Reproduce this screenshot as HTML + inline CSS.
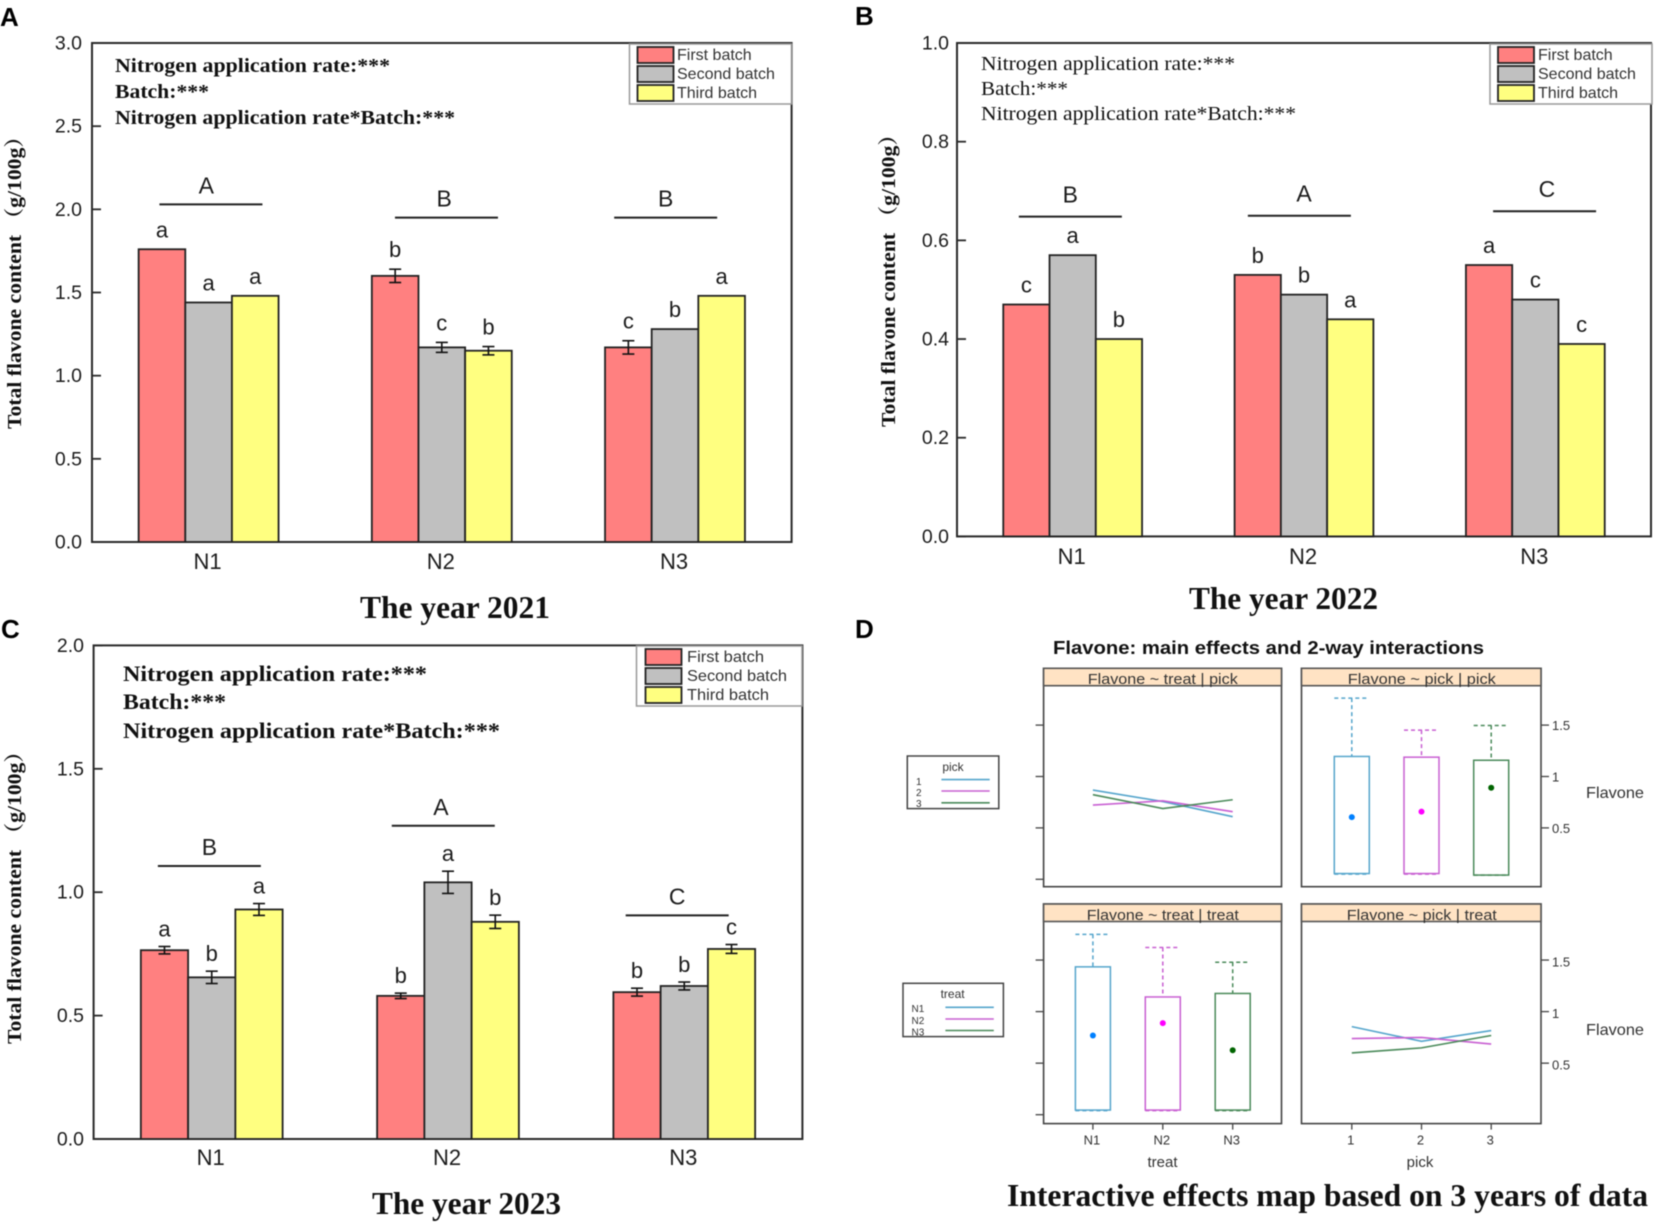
<!DOCTYPE html>
<html lang="en">
<head>
<meta charset="utf-8">
<title>Total flavone content by nitrogen rate and batch</title>
<style>
html,body{margin:0;padding:0;background:#fff;}
svg{display:block;filter:blur(0.55px);}
.sans{font-family:"Liberation Sans",Arial,sans-serif;fill:#1c1c1c;}
.serif{font-family:"Liberation Serif","Noto Serif CJK SC",serif;fill:#111;}
.b{font-weight:bold;}
.note{font-size:20px;}
.year{font-size:32px;font-weight:bold;}
.ytitle{font-size:20px;font-weight:bold;}
.plab{font-family:"Liberation Sans",Arial,sans-serif;font-weight:bold;font-size:26px;fill:#000;}
.leg{font-size:16px;fill:#333;}
.strip{font-size:15px;fill:#333;text-anchor:middle;}
.dtxt{font-family:"Liberation Sans",Arial,sans-serif;fill:#333;}
</style>
</head>
<body>
<svg id="fig" xmlns="http://www.w3.org/2000/svg" width="1656" height="1226" viewBox="0 0 1656 1226">
  <rect x="0" y="0" width="1656" height="1226" fill="#fff"/>

  <!-- panel letters -->
  <text class="plab" x="0" y="26">A</text>
  <text class="plab" x="855" y="25">B</text>
  <text class="plab" x="1" y="638">C</text>
  <text class="plab" x="855" y="638">D</text>

  <!-- axis titles -->
  <text class="serif ytitle" text-anchor="middle" textLength="303" lengthAdjust="spacingAndGlyphs" transform="translate(21 277.5) rotate(-90)">Total flavone content （g/100g）</text>
  <text class="serif ytitle" text-anchor="middle" textLength="303" lengthAdjust="spacingAndGlyphs" transform="translate(895 275.5) rotate(-90)">Total flavone content （g/100g）</text>
  <text class="serif ytitle" text-anchor="middle" textLength="303" lengthAdjust="spacingAndGlyphs" transform="translate(21 892.5) rotate(-90)">Total flavone content （g/100g）</text>

  <g id="chart-a"></g>
  <g id="chart-b"></g>
  <g id="chart-c"></g>

  <!-- significance notes -->
  <g>
    <text class="serif b note" x="115" y="72" textLength="275" lengthAdjust="spacingAndGlyphs">Nitrogen application rate:***</text>
    <text class="serif b note" x="115" y="98" textLength="94" lengthAdjust="spacingAndGlyphs">Batch:***</text>
    <text class="serif b note" x="115" y="124" textLength="340" lengthAdjust="spacingAndGlyphs">Nitrogen application rate*Batch:***</text>
  </g>
  <g>
    <text class="serif note" x="981" y="70" textLength="254" lengthAdjust="spacingAndGlyphs">Nitrogen application rate:***</text>
    <text class="serif note" x="981" y="95" textLength="87" lengthAdjust="spacingAndGlyphs">Batch:***</text>
    <text class="serif note" x="981" y="120" textLength="315" lengthAdjust="spacingAndGlyphs">Nitrogen application rate*Batch:***</text>
  </g>
  <g>
    <text class="serif b" style="font-size:22px" x="123" y="681" textLength="304" lengthAdjust="spacingAndGlyphs">Nitrogen application rate:***</text>
    <text class="serif b" style="font-size:22px" x="123" y="709" textLength="103" lengthAdjust="spacingAndGlyphs">Batch:***</text>
    <text class="serif b" style="font-size:22px" x="123" y="738" textLength="377" lengthAdjust="spacingAndGlyphs">Nitrogen application rate*Batch:***</text>
  </g>

  <!-- captions -->
  <text class="serif year" x="360" y="618" textLength="190" lengthAdjust="spacingAndGlyphs">The year 2021</text>
  <text class="serif year" x="1189" y="609" textLength="189" lengthAdjust="spacingAndGlyphs">The year 2022</text>
  <text class="serif year" x="372" y="1214" textLength="189" lengthAdjust="spacingAndGlyphs">The year 2023</text>
  <text class="serif year" x="1007" y="1206" textLength="641" lengthAdjust="spacingAndGlyphs">Interactive effects map based on 3 years of data</text>

  <!-- bar chart legends -->
  <g>
    <rect x="629.5" y="44" width="162" height="60" fill="#fff" stroke="#999" stroke-width="1.5"/>
    <rect x="637.5" y="47" width="36" height="16" fill="#ff8080" stroke="#222" stroke-width="1.8"/>
    <rect x="637.5" y="66" width="36" height="16" fill="#c0c0c0" stroke="#222" stroke-width="1.8"/>
    <rect x="637.5" y="85" width="36" height="16" fill="#ffff80" stroke="#222" stroke-width="1.8"/>
    <text class="sans leg" x="677" y="60">First batch</text>
    <text class="sans leg" x="677" y="79">Second batch</text>
    <text class="sans leg" x="677" y="98">Third batch</text>
  </g>
  <g>
    <rect x="1490" y="44" width="162" height="60" fill="#fff" stroke="#999" stroke-width="1.5"/>
    <rect x="1498" y="47" width="36" height="16" fill="#ff8080" stroke="#222" stroke-width="1.8"/>
    <rect x="1498" y="66" width="36" height="16" fill="#c0c0c0" stroke="#222" stroke-width="1.8"/>
    <rect x="1498" y="85" width="36" height="16" fill="#ffff80" stroke="#222" stroke-width="1.8"/>
    <text class="sans leg" x="1538" y="60">First batch</text>
    <text class="sans leg" x="1538" y="79">Second batch</text>
    <text class="sans leg" x="1538" y="98">Third batch</text>
  </g>
  <g>
    <rect x="636.5" y="646" width="165.5" height="60" fill="#fff" stroke="#999" stroke-width="1.5"/>
    <rect x="645.5" y="649" width="36" height="16" fill="#ff8080" stroke="#222" stroke-width="1.8"/>
    <rect x="645.5" y="668" width="36" height="16" fill="#c0c0c0" stroke="#222" stroke-width="1.8"/>
    <rect x="645.5" y="687" width="36" height="16" fill="#ffff80" stroke="#222" stroke-width="1.8"/>
    <text class="sans leg" x="687" y="662" textLength="77" lengthAdjust="spacingAndGlyphs">First batch</text>
    <text class="sans leg" x="687" y="681" textLength="100" lengthAdjust="spacingAndGlyphs">Second batch</text>
    <text class="sans leg" x="687" y="700" textLength="82" lengthAdjust="spacingAndGlyphs">Third batch</text>
  </g>

  <!-- panel D static text -->
  <text class="dtxt" style="font-weight:bold;font-size:18px;fill:#111" x="1053" y="654" textLength="431" lengthAdjust="spacingAndGlyphs">Flavone: main effects and 2-way interactions</text>
  <g id="chart-d"></g>
  <text class="dtxt strip" x="1162.8" y="684" textLength="150" lengthAdjust="spacingAndGlyphs">Flavone ~ treat | pick</text>
  <text class="dtxt strip" x="1421.8" y="684" textLength="148" lengthAdjust="spacingAndGlyphs">Flavone ~ pick | pick</text>
  <text class="dtxt strip" x="1162.8" y="920" textLength="152" lengthAdjust="spacingAndGlyphs">Flavone ~ treat | treat</text>
  <text class="dtxt strip" x="1421.8" y="920" textLength="150" lengthAdjust="spacingAndGlyphs">Flavone ~ pick | treat</text>
  <text class="dtxt" style="font-size:16px" x="1586" y="798" textLength="58" lengthAdjust="spacingAndGlyphs">Flavone</text>
  <text class="dtxt" style="font-size:16px" x="1586" y="1035" textLength="58" lengthAdjust="spacingAndGlyphs">Flavone</text>
  <text class="dtxt" style="font-size:15px" text-anchor="middle" x="1162.5" y="1167">treat</text>
  <text class="dtxt" style="font-size:15px" text-anchor="middle" x="1420" y="1167">pick</text>

  <g>
    <rect x="907.3" y="756" width="91.5" height="52.6" fill="#fff" stroke="#444" stroke-width="1.5"/>
    <text class="dtxt" style="font-size:12px" text-anchor="middle" x="953" y="771">pick</text>
    <text class="dtxt" style="font-size:10px" x="916" y="785">1</text>
    <text class="dtxt" style="font-size:10px" x="916" y="796">2</text>
    <text class="dtxt" style="font-size:10px" x="916" y="807">3</text>
    <line x1="941.4" x2="989.7" y1="779.6" y2="779.6" stroke="#55a5cc" stroke-width="1.6"/>
    <line x1="941.4" x2="989.7" y1="791" y2="791" stroke="#c85fd2" stroke-width="1.6"/>
    <line x1="941.4" x2="989.7" y1="802.8" y2="802.8" stroke="#4a8a5a" stroke-width="1.6"/>
  </g>
  <g>
    <rect x="903" y="983.3" width="100.4" height="53.3" fill="#fff" stroke="#444" stroke-width="1.5"/>
    <text class="dtxt" style="font-size:12px" text-anchor="middle" x="952.6" y="998">treat</text>
    <text class="dtxt" style="font-size:10px" x="911.5" y="1012">N1</text>
    <text class="dtxt" style="font-size:10px" x="911.5" y="1024">N2</text>
    <text class="dtxt" style="font-size:10px" x="911.5" y="1035.5">N3</text>
    <line x1="945.4" x2="993.8" y1="1007.3" y2="1007.3" stroke="#55a5cc" stroke-width="1.6"/>
    <line x1="945.4" x2="993.8" y1="1019" y2="1019" stroke="#c85fd2" stroke-width="1.6"/>
    <line x1="945.4" x2="993.8" y1="1030.5" y2="1030.5" stroke="#4a8a5a" stroke-width="1.6"/>
  </g>
</svg>

<script>
// ---------- bar chart data ----------
const categories = ['N1', 'N2', 'N3'];
const batchKeys = ['first', 'second', 'third'];

const ticks2021 = ['0.0', '0.5', '1.0', '1.5', '2.0', '2.5', '3.0'];
const first2021 = [1.76, 1.60, 1.17];
const second2021 = [1.44, 1.17, 1.28];
const third2021 = [1.48, 1.15, 1.48];
const firstErr2021 = [0, 0.04, 0.04];
const secondErr2021 = [0, 0.03, 0];
const thirdErr2021 = [0, 0.025, 0];
const firstLetters2021 = ['a', 'b', 'c'];
const secondLetters2021 = ['a', 'c', 'b'];
const thirdLetters2021 = ['a', 'b', 'a'];
const groupLetters2021 = ['A', 'B', 'B'];
const groupLevels2021 = [2.03, 1.95, 1.95];
const groupCenters2021 = [1.01, 2.02, 2.96];
const groupLetterCenters2021 = [0.99, 2.01, 2.96];

const ticks2022 = ['0.0', '0.2', '0.4', '0.6', '0.8', '1.0'];
const first2022 = [0.47, 0.53, 0.55];
const second2022 = [0.57, 0.49, 0.48];
const third2022 = [0.40, 0.44, 0.39];
const firstErr2022 = [0, 0, 0];
const secondErr2022 = [0, 0, 0];
const thirdErr2022 = [0, 0, 0];
const firstLetters2022 = ['c', 'b', 'a'];
const secondLetters2022 = ['a', 'b', 'c'];
const thirdLetters2022 = ['b', 'a', 'c'];
const groupLetters2022 = ['B', 'A', 'C'];
const groupLevels2022 = [0.648, 0.65, 0.659];
const groupCenters2022 = [0.99, 1.98, 3.04];
const groupLetterCenters2022 = [0.99, 2.0, 3.05];

const ticks2023 = ['0.0', '0.5', '1.0', '1.5', '2.0'];
const first2023 = [0.765, 0.58, 0.595];
const second2023 = [0.655, 1.04, 0.62];
const third2023 = [0.93, 0.88, 0.77];
const firstErr2023 = [0.015, 0.011, 0.016];
const secondErr2023 = [0.025, 0.045, 0.016];
const thirdErr2023 = [0.024, 0.027, 0.018];
const firstLetters2023 = ['a', 'b', 'b'];
const secondLetters2023 = ['b', 'a', 'b'];
const thirdLetters2023 = ['a', 'b', 'c'];
const groupLetters2023 = ['B', 'A', 'C'];
const groupLevels2023 = [1.106, 1.269, 0.906];
const groupCenters2023 = [0.99, 1.98, 2.97];
const groupLetterCenters2023 = [0.99, 1.97, 2.97];

// ---------- interaction plot data ----------
const treatLevels = ['N1', 'N2', 'N3'];
const pickLevels = ['1', '2', '3'];
const rightTicks = ['0.5', '1', '1.5'];
const leftTickValues = [0, 0.5, 1, 1.5];
const pick1ByTreat = [0.868, 0.756, 0.609];
const pick2ByTreat = [0.722, 0.763, 0.658];
const pick3ByTreat = [0.823, 0.688, 0.774];
const n1ByPick = [0.854, 0.712, 0.816];
const n2ByPick = [0.738, 0.749, 0.685];
const n3ByPick = [0.599, 0.648, 0.768];
const pickBoxUpper = [1.195, 1.188, 1.158];
const pickBoxLower = [0.056, 0.056, 0.041];
const pickWhiskerHigh = [1.763, 1.451, 1.496];
const pickWhiskerLow = [0.05, 0.05, 0.041];
const pickMedian = [0.605, 0.658, 0.891];
const treatBoxUpper = [1.434, 1.142, 1.176];
const treatBoxLower = [0.045, 0.045, 0.045];
const treatWhiskerHigh = [1.749, 1.622, 1.479];
const treatWhiskerLow = [0.04, 0.04, 0.04];
const treatMedian = [0.768, 0.888, 0.625];

// ---------- helpers ----------
const NS = 'http://www.w3.org/2000/svg';
function make(parent, tag, name, props, txt) {
  const el = document.createElementNS(NS, tag);
  
  
  for (const k in props) el.setAttribute(k, props[k]);
  if (txt !== undefined) el.textContent = txt;
  parent.appendChild(el);
  return el;
}

const batchFill = ['#ff8080', '#c0c0c0', '#ffff80'];

function drawBars(host, f, ticks, series, errs, letters, groupLetters, groupLevels, groupCenters, groupLetterCenters) {
  const g = document.getElementById(host);
  const yMax = Number(ticks[ticks.length - 1]);
  const bandW = (f.right - f.left) / categories.length;
  const barW = bandW * 0.2;
  const yScale = v => f.bottom - (v / yMax) * (f.bottom - f.top);
  const bandCenter = u => f.left + (u - 0.5) * bandW;
  const barLeft = (c, s) => bandCenter(c + 1) + (s - 1.5) * barW;

  make(g, 'rect', 'plot-frame', {x: f.left, y: f.top, width: f.right - f.left, height: f.bottom - f.top, fill: 'none', stroke: '#2a2a2a', 'stroke-width': 2});

  ticks.forEach(t => {
    const y = yScale(Number(t));
    make(g, 'line', 'y-tick-' + t, {x1: f.left, x2: f.left + 9, y1: y, y2: y, stroke: '#2a2a2a', 'stroke-width': 1.8});
    make(g, 'text', 'y-tick-label-' + t, {class: 'sans', x: f.labelRight, y: y + 6.5, 'text-anchor': 'end', 'font-size': 19.5}, t);
  });

  categories.forEach((cat, c) => {
    make(g, 'text', 'x-tick-label-' + cat, {class: 'sans', x: bandCenter(c + 1) - 1, y: f.catY, 'text-anchor': 'middle', 'font-size': 22}, cat);
    series.forEach((vals, s) => {
      const v = vals[c];
      const y = yScale(v);
      make(g, 'rect', 'bar-' + cat + '-' + batchKeys[s], {x: barLeft(c, s), y: y, width: barW, height: f.bottom - y, fill: batchFill[s], stroke: '#222', 'stroke-width': 1.8});
    });
  });

  categories.forEach((cat, c) => {
    series.forEach((vals, s) => {
      const v = vals[c];
      const e = errs[s][c];
      const cx = barLeft(c, s) + barW / 2;
      if (e > 0) {
        const hi = yScale(v + e), lo = yScale(v - e);
        make(g, 'line', 'error-stem-' + cat + '-' + batchKeys[s], {x1: cx, x2: cx, y1: hi, y2: lo, stroke: '#111', 'stroke-width': 1.6});
        make(g, 'line', 'error-cap-high-' + cat + '-' + batchKeys[s], {x1: cx - 6, x2: cx + 6, y1: hi, y2: hi, stroke: '#111', 'stroke-width': 1.6});
        make(g, 'line', 'error-cap-low-' + cat + '-' + batchKeys[s], {x1: cx - 6, x2: cx + 6, y1: lo, y2: lo, stroke: '#111', 'stroke-width': 1.6});
      }
      make(g, 'text', 'significance-letter-' + cat + '-' + batchKeys[s], {class: 'sans', x: cx, y: yScale(v + e) - f.letterGap, 'text-anchor': 'middle', 'font-size': 22}, letters[s][c]);
    });
    const ly = yScale(groupLevels[c]);
    const lx = bandCenter(groupCenters[c]);
    make(g, 'line', 'group-line-' + cat, {x1: lx - 51.5, x2: lx + 51.5, y1: ly, y2: ly, stroke: '#222', 'stroke-width': 2});
    make(g, 'text', 'group-letter-' + cat, {class: 'sans', x: bandCenter(groupLetterCenters[c]), y: ly - f.groupGap, 'text-anchor': 'middle', 'font-size': 23}, groupLetters[c]);
  });
}

drawBars('chart-a',
  {left: 92, right: 791.6, top: 43, bottom: 542, labelRight: 82, catY: 569, letterGap: 12, groupGap: 11},
  ticks2021,
  [first2021, second2021, third2021],
  [firstErr2021, secondErr2021, thirdErr2021],
  [firstLetters2021, secondLetters2021, thirdLetters2021],
  groupLetters2021, groupLevels2021, groupCenters2021, groupLetterCenters2021);

drawBars('chart-b',
  {left: 957, right: 1651, top: 43, bottom: 536.4, labelRight: 949, catY: 564, letterGap: 12, groupGap: 14},
  ticks2022,
  [first2022, second2022, third2022],
  [firstErr2022, secondErr2022, thirdErr2022],
  [firstLetters2022, secondLetters2022, thirdLetters2022],
  groupLetters2022, groupLevels2022, groupCenters2022, groupLetterCenters2022);

drawBars('chart-c',
  {left: 93.6, right: 802.4, top: 645.4, bottom: 1139, labelRight: 84, catY: 1165, letterGap: 10, groupGap: 11},
  ticks2023,
  [first2023, second2023, third2023],
  [firstErr2023, secondErr2023, thirdErr2023],
  [firstLetters2023, secondLetters2023, thirdLetters2023],
  groupLetters2023, groupLevels2023, groupCenters2023, groupLetterCenters2023);

// ---------- interaction panels ----------
const lineColors = ['#55a5cc', '#c85fd2', '#4a8a5a'];
const dotColors = ['#0080ff', '#ff00ff', '#006400'];
const dHost = document.getElementById('chart-d');
const colLeft = {left: 1043.6, right: 1281.5, x1: 1092.9, step: 69.9};
const colRight = {left: 1301.5, right: 1541, x1: 1351.8, step: 69.7};
const rowTop = {top: 668.3, strip: 685.7, bottom: 886.7, zero: 879.3, unit: 102.8, labelDy: 5};
const rowBottom = {top: 904, strip: 921.5, bottom: 1123.6, zero: 1114.7, unit: 103.1, labelDy: 6.5};

function dFrame(name, col, row) {
  make(dHost, 'rect', name + '-frame', {x: col.left, y: row.top, width: col.right - col.left, height: row.bottom - row.top, fill: '#fff', stroke: '#444', 'stroke-width': 1.6});
  make(dHost, 'rect', name + '-strip', {x: col.left, y: row.top, width: col.right - col.left, height: row.strip - row.top, fill: '#ffe3c4', stroke: '#555', 'stroke-width': 1.6});
}
function dLines(name, col, row, seriesList) {
  seriesList.forEach((vals, s) => {
    const pts = vals.map((v, i) => (col.x1 + i * col.step) + ',' + (row.zero - v * row.unit)).join(' ');
    make(dHost, 'polyline', name + '-line-' + (s + 1), {points: pts, fill: 'none', stroke: lineColors[s], 'stroke-width': 1.6});
  });
}
function dBoxes(name, col, row, levels, upper, lower, hi, lo, med) {
  const y = v => row.zero - v * row.unit;
  levels.forEach((lev, i) => {
    const cx = col.x1 + i * col.step;
    const c = lineColors[i];
    make(dHost, 'line', name + '-whisker-' + lev, {x1: cx, x2: cx, y1: y(hi[i]), y2: y(upper[i]), stroke: c, 'stroke-width': 1.5, 'stroke-dasharray': '4 3'});
    make(dHost, 'line', name + '-whisker-cap-high-' + lev, {x1: cx - 17.5, x2: cx + 17.5, y1: y(hi[i]), y2: y(hi[i]), stroke: c, 'stroke-width': 1.5, 'stroke-dasharray': '4 3'});
    make(dHost, 'line', name + '-whisker-cap-low-' + lev, {x1: cx - 17.5, x2: cx + 17.5, y1: y(lo[i]), y2: y(lo[i]), stroke: c, 'stroke-width': 1.5, 'stroke-dasharray': '4 3'});
    make(dHost, 'rect', name + '-box-' + lev, {x: cx - 17.5, y: y(upper[i]), width: 35, height: y(lower[i]) - y(upper[i]), fill: 'none', stroke: c, 'stroke-width': 1.5});
    make(dHost, 'circle', name + '-median-' + lev, {cx: cx, cy: y(med[i]), r: 3, fill: dotColors[i]});
  });
}

dFrame('panel-treat-pick', colLeft, rowTop);
dFrame('panel-pick-pick', colRight, rowTop);
dFrame('panel-treat-treat', colLeft, rowBottom);
dFrame('panel-pick-treat', colRight, rowBottom);

dLines('panel-treat-pick', colLeft, rowTop, [pick1ByTreat, pick2ByTreat, pick3ByTreat]);
dLines('panel-pick-treat', colRight, rowBottom, [n1ByPick, n2ByPick, n3ByPick]);
dBoxes('panel-pick-pick', colRight, rowTop, pickLevels, pickBoxUpper, pickBoxLower, pickWhiskerHigh, pickWhiskerLow, pickMedian);
dBoxes('panel-treat-treat', colLeft, rowBottom, treatLevels, treatBoxUpper, treatBoxLower, treatWhiskerHigh, treatWhiskerLow, treatMedian);

[rowTop, rowBottom].forEach((row, r) => {
  leftTickValues.forEach(v => {
    const y = row.zero - v * row.unit;
    make(dHost, 'line', 'left-tick-row' + (r + 1) + '-' + v, {x1: colLeft.left - 8, x2: colLeft.left, y1: y, y2: y, stroke: '#444', 'stroke-width': 1.3});
  });
  rightTicks.forEach(t => {
    const y = row.zero - Number(t) * row.unit;
    make(dHost, 'line', 'right-tick-row' + (r + 1) + '-' + t, {x1: colRight.right, x2: colRight.right + 8, y1: y, y2: y, stroke: '#444', 'stroke-width': 1.3});
    make(dHost, 'text', 'right-tick-label-row' + (r + 1) + '-' + t, {class: 'dtxt', x: colRight.right + 11, y: y + row.labelDy, 'font-size': 13}, t);
  });
});
treatLevels.forEach((lev, i) => {
  const x = colLeft.x1 + i * colLeft.step;
  make(dHost, 'line', 'x-tick-treat-' + lev, {x1: x, x2: x, y1: rowBottom.bottom, y2: rowBottom.bottom + 6, stroke: '#444', 'stroke-width': 1.3});
  make(dHost, 'text', 'x-tick-label-treat-' + lev, {class: 'dtxt', x: x - 1, y: 1144.5, 'text-anchor': 'middle', 'font-size': 13}, lev);
});
pickLevels.forEach((lev, i) => {
  const x = colRight.x1 + i * colRight.step;
  make(dHost, 'line', 'x-tick-pick-' + lev, {x1: x, x2: x, y1: rowBottom.bottom, y2: rowBottom.bottom + 6, stroke: '#444', 'stroke-width': 1.3});
  make(dHost, 'text', 'x-tick-label-pick-' + lev, {class: 'dtxt', x: x - 1, y: 1144.5, 'text-anchor': 'middle', 'font-size': 13}, lev);
});
</script>
</body>
</html>
